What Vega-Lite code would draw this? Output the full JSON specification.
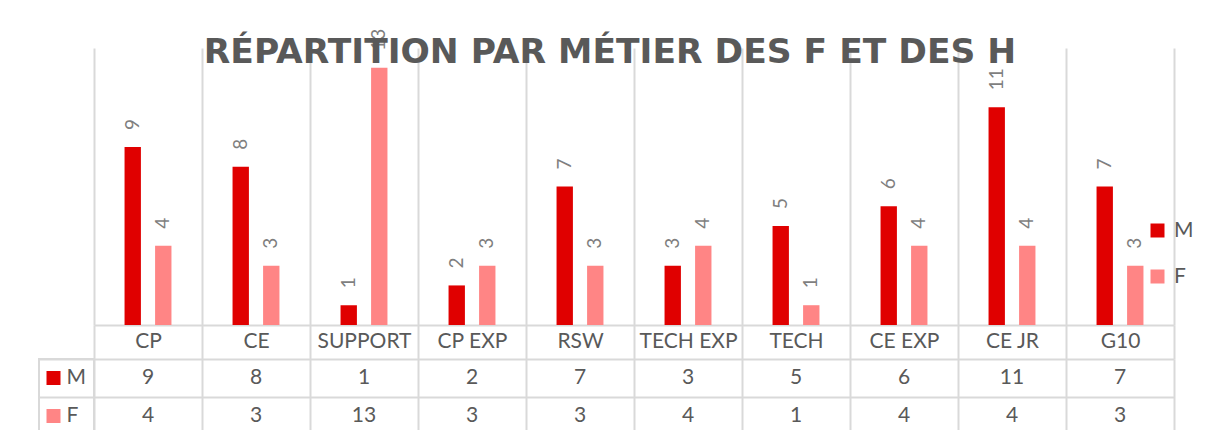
{
  "$schema": "https://vega.github.io/schema/vega-lite/v6.json",
  "background": "white",
  "padding": {"left": 38, "top": 28, "right": 5, "bottom": 0},
  "datasets": {
    "d": [
      {"metier": "CP", "sexe": "M", "n": 9}, {"metier": "CP", "sexe": "F", "n": 4},
      {"metier": "CE", "sexe": "M", "n": 8}, {"metier": "CE", "sexe": "F", "n": 3},
      {"metier": "SUPPORT", "sexe": "M", "n": 1}, {"metier": "SUPPORT", "sexe": "F", "n": 13},
      {"metier": "CP EXP", "sexe": "M", "n": 2}, {"metier": "CP EXP", "sexe": "F", "n": 3},
      {"metier": "RSW", "sexe": "M", "n": 7}, {"metier": "RSW", "sexe": "F", "n": 3},
      {"metier": "TECH EXP", "sexe": "M", "n": 3}, {"metier": "TECH EXP", "sexe": "F", "n": 4},
      {"metier": "TECH", "sexe": "M", "n": 5}, {"metier": "TECH", "sexe": "F", "n": 1},
      {"metier": "CE EXP", "sexe": "M", "n": 6}, {"metier": "CE EXP", "sexe": "F", "n": 4},
      {"metier": "CE JR", "sexe": "M", "n": 11}, {"metier": "CE JR", "sexe": "F", "n": 4},
      {"metier": "G10", "sexe": "M", "n": 7}, {"metier": "G10", "sexe": "F", "n": 3}
    ],
    "legendRows": [{"sexe": "M"}, {"sexe": "F"}],
    "empty": []
  },
  "columns": 2,
  "spacing": {"row": 34, "column": 0},
  "bounds": "flush",
  "config": {"view": {"stroke": null}, "font": "Lato"},
  "concat": [
    {
      "width": 55, "height": 277,
      "data": {"name": "empty"},
      "mark": {"type": "text"},
      "encoding": {}
    },
    {
      "width": 1080, "height": 277,
      "data": {"name": "d"},
      "title": {
        "text": "RÉPARTITION PAR MÉTIER DES F ET DES H",
        "font": "DejaVu Sans", "fontSize": 34.5, "fontWeight": "bold", "color": "#595959",
        "anchor": "middle", "frame": "group", "dx": -24, "offset": -69, "baseline": "alphabetic"
      },
      "encoding": {
        "x": {
          "field": "metier", "type": "nominal",
          "sort": ["CP", "CE", "SUPPORT", "CP EXP", "RSW", "TECH EXP", "TECH", "CE EXP", "CE JR", "G10"],
          "scale": {"type": "band", "paddingInner": 0, "paddingOuter": 0},
          "axis": {
            "title": null, "grid": true, "tickBand": "extent",
            "gridColor": "#d9d9d9", "gridWidth": 2,
            "ticks": true, "tickSize": 34, "tickColor": "#d9d9d9", "tickWidth": 2,
            "domain": true, "domainColor": "#d9d9d9", "domainWidth": 2,
            "labelFont": "Lato", "labelFontSize": 21, "labelColor": "#595959",
            "labelPadding": -18, "labelBaseline": "middle", "labelAngle": 0
          }
        },
        "y": {"field": "n", "type": "quantitative", "scale": {"domain": [0, 14]}, "axis": null},
        "xOffset": {
          "field": "sexe", "type": "nominal", "sort": ["M", "F"],
          "scale": {"paddingInner": 0.464, "paddingOuter": 1.16}
        }
      },
      "layer": [
        {
          "mark": {"type": "bar"},
          "encoding": {
            "color": {
              "field": "sexe", "type": "nominal",
              "scale": {"domain": ["M", "F"], "range": ["#E00000", "#FF8585"]},
              "legend": {
                "orient": "none", "legendX": 1108, "legendY": 172, "title": null,
                "symbolType": "square", "symbolSize": 196, "symbolStrokeWidth": 0,
                "labelFont": "Lato", "labelFontSize": 21, "labelColor": "#595959",
                "rowPadding": 24, "labelOffset": 6
              }
            }
          }
        },
        {
          "mark": {"type": "text", "angle": 270, "align": "left", "baseline": "middle", "dx": 17,
                   "font": "Lato", "fontSize": 19, "color": "#7f7f7f"},
          "encoding": {"text": {"field": "n", "type": "quantitative"}}
        }
      ]
    },
    {
      "width": 55, "height": 76,
      "data": {"name": "legendRows"},
      "view": {"stroke": "#d9d9d9", "strokeWidth": 2},
      "encoding": {
        "y": {
          "field": "sexe", "type": "nominal", "sort": ["M", "F"],
          "scale": {"type": "band", "paddingInner": 0, "paddingOuter": 0},
          "axis": {"grid": true, "tickBand": "extent", "labels": false, "ticks": false, "domain": false,
                   "title": null, "gridColor": "#d9d9d9", "gridWidth": 2}
        }
      },
      "layer": [
        {
          "mark": {"type": "square", "size": 196, "filled": true, "opacity": 1, "xOffset": -13},
          "encoding": {
            "color": {
              "field": "sexe", "type": "nominal",
              "scale": {"domain": ["M", "F"], "range": ["#E00000", "#FF8585"]},
              "legend": null
            }
          }
        },
        {
          "mark": {"type": "text", "align": "left", "baseline": "middle", "font": "Lato", "fontSize": 21, "color": "#595959"},
          "encoding": {"text": {"field": "sexe", "type": "nominal"}}
        }
      ]
    },
    {
      "width": 1080, "height": 76,
      "data": {"name": "d"},
      "mark": {"type": "text", "baseline": "middle", "font": "Lato", "fontSize": 21, "color": "#595959"},
      "encoding": {
        "x": {
          "field": "metier", "type": "nominal",
          "sort": ["CP", "CE", "SUPPORT", "CP EXP", "RSW", "TECH EXP", "TECH", "CE EXP", "CE JR", "G10"],
          "scale": {"type": "band", "paddingInner": 0, "paddingOuter": 0},
          "axis": {"grid": true, "tickBand": "extent", "labels": false, "ticks": false, "domain": false,
                   "title": null, "gridColor": "#d9d9d9", "gridWidth": 2}
        },
        "y": {
          "field": "sexe", "type": "nominal", "sort": ["M", "F"],
          "scale": {"type": "band", "paddingInner": 0, "paddingOuter": 0},
          "axis": {"grid": true, "tickBand": "extent", "labels": false, "ticks": false, "domain": false,
                   "title": null, "gridColor": "#d9d9d9", "gridWidth": 2}
        },
        "text": {"field": "n", "type": "quantitative"}
      }
    }
  ]
}
